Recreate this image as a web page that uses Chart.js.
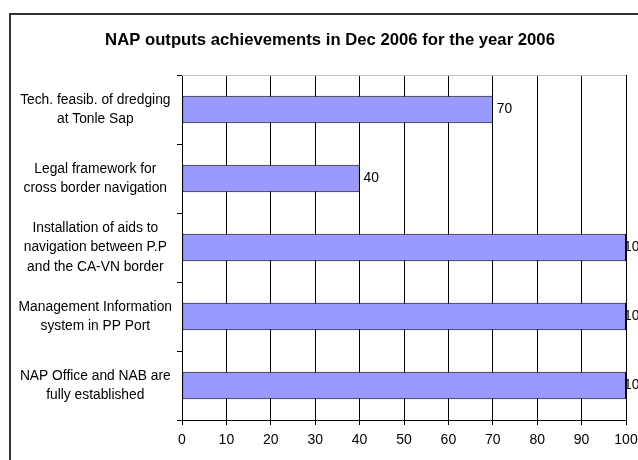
<!DOCTYPE html>
<html lang="en">
<head>
<meta charset="UTF-8">
<script src="https://cdn.jsdelivr.net/npm/chart.js"></script>
<title>NAP outputs achievements</title>
<style>
  body { margin: 0; background: #fff; }
</style>
</head>
<body>
  <div style="width: 638px; height: 460px;">
    <canvas id="grafico"></canvas>
  </div>

<script>
  const chartTitle = 'NAP outputs achievements in Dec 2006 for the year 2006';
  // categories, top to bottom (multi-line labels)
  const categorias = [
    ['Tech. feasib. of dredging', 'at Tonle Sap'],
    ['Legal framework for', 'cross border navigation'],
    ['Installation of aids to', 'navigation between P.P', 'and the CA-VN border'],
    ['Management Information', 'system in PP Port'],
    ['NAP Office and NAB are', 'fully established']
  ];
  const valores = [70, 40, 100, 100, 100];
  const xMin = 0, xMax = 100, xStep = 10;

  const fonte = 'Liberation Sans, Arial, sans-serif';

  // moldura, titulo e rotulos de valor
  const extras = {
    id: 'extras',
    beforeDraw(chart) {
      const c = chart.ctx;
      c.save();
      c.fillStyle = '#fff';
      c.fillRect(0, 0, chart.width, chart.height);
      c.strokeStyle = '#333';
      c.lineWidth = 2;
      c.strokeRect(10, 14, 700, 600);
      c.restore();
    },
    afterDatasetsDraw(chart) {
      const c = chart.ctx;
      const a = chart.chartArea;
      c.save();
      // linha superior cinza da area do grafico
      c.strokeStyle = '#c0c0c0';
      c.lineWidth = 1;
      c.beginPath();
      c.moveTo(a.left, a.top + 0.5);
      c.lineTo(a.right, a.top + 0.5);
      c.stroke();
      // titulo
      c.fillStyle = '#000';
      c.font = 'bold 16.7px ' + fonte;
      c.textAlign = 'center';
      c.textBaseline = 'alphabetic';
      c.fillText(chartTitle, 330, 45);
      // valores (encostados na borda quando nao cabem)
      c.font = '13.8px ' + fonte;
      c.textAlign = 'left';
      c.textBaseline = 'middle';
      chart.getDatasetMeta(0).data.forEach((bar, i) => {
        const x = Math.min(bar.x + 4, a.right - 2);
        c.fillText(String(valores[i]), x, bar.y);
      });
      c.restore();
    }
  };

  const ctx = document.getElementById('grafico');
  new Chart(ctx, {
    type: 'bar',
    data: {
      labels: categorias,
      datasets: [{
        data: valores,
        backgroundColor: '#9999ff',
        borderColor: '#000',
        borderWidth: 1,
        borderSkipped: false,
        categoryPercentage: 1,
        barPercentage: 0.4
      }]
    },
    options: {
      indexAxis: 'y',
      responsive: true,
      maintainAspectRatio: false,
      animation: false,
      layout: { padding: { top: 75, right: 12, left: 0, bottom: 0 } },
      plugins: {
        legend: { display: false },
        title: { display: false },
        tooltip: { enabled: false }
      },
      scales: {
        x: {
          min: xMin,
          max: xMax,
          ticks: {
            stepSize: xStep,
            color: '#000',
            font: { family: fonte, size: 14 },
            padding: 7
          },
          grid: { color: '#000', lineWidth: 1, tickLength: 5 },
          border: { color: '#000' },
          afterFit: (s) => { s.height = 40; s.paddingLeft = 0; s.paddingRight = 0; }
        },
        y: {
          offset: true,
          ticks: {
            color: '#000',
            crossAlign: 'center',
            padding: 5,
            font: { family: fonte, size: 13.8, lineHeight: 1.4 }
          },
          grid: { offset: true, drawOnChartArea: false, color: '#000', tickLength: 5 },
          border: { color: '#000' },
          afterFit: (s) => { s.width = 182; s.paddingTop = 0; s.paddingBottom = 0; }
        }
      }
    },
    plugins: [extras]
  });
</script>
</body>
</html>
